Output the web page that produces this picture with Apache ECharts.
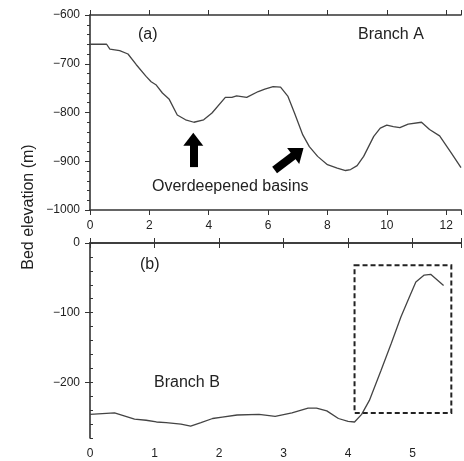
<!DOCTYPE html>
<html>
<head>
<meta charset="utf-8">
<script src="https://cdn.jsdelivr.net/npm/echarts@6/dist/echarts.min.js"></script>
<style>
  html, body { margin: 0; padding: 0; background: #fff; }
  #chart { width: 464px; height: 461px; }
</style>
</head>
<body>
<div id="chart"></div>
<script>
// Branch A profile (distance km, bed elevation m)
let distA = [0, 0.56, 0.67, 1.0, 1.28, 1.56, 1.89, 2.06, 2.22, 2.44, 2.67, 2.94, 3.22, 3.5, 3.83, 4.11,
    4.56, 4.78, 4.94, 5.28, 5.67, 5.89, 6.17, 6.42, 6.67, 6.89, 7.17, 7.39, 7.67, 8.0, 8.33, 8.61,
    8.78, 9.0, 9.22, 9.56, 9.78, 10.0, 10.22, 10.44, 10.72, 11.17, 11.44, 11.78, 12.17, 12.5];
let elevA = [-660, -660, -670, -673, -680, -702, -726, -737, -743, -760, -773, -805, -815, -820, -815, -801,
    -769, -769, -766, -769, -757, -752, -747, -748, -767, -801, -846, -870, -890, -907, -914, -919,
    -917, -909, -890, -849, -832, -826, -829, -831, -824, -820, -835, -848, -883, -913];

// Branch B profile
let distB = [0, 0.38, 0.69, 0.87, 1.03, 1.18, 1.41, 1.56, 1.72, 1.9, 2.05, 2.28, 2.62, 2.87, 3.13, 3.38,
    3.51, 3.67, 3.85, 4.0, 4.1, 4.21, 4.33, 4.51, 4.67, 4.82, 4.95, 5.05, 5.18, 5.28, 5.48];
let elevB = [-246, -244, -253, -254.5, -257, -258, -260, -263, -258, -252, -250, -247, -246, -249, -244, -237,
    -237, -241, -252, -256, -257, -246, -226, -183, -144, -106, -77.5, -56, -46, -45, -61];

let ticksA = [-1000, -900, -800, -700, -600];
let ticksB = [-200, -100, 0];

let pairsA = distA.map((d, i) => [d, elevA[i]]);
let pairsB = distB.map((d, i) => [d, elevB[i]]);

let font = "'Liberation Sans', Arial, sans-serif";
let axisColor = '#333';
let minus = v => String(v).replace('-', '\u2212');

function bottomAxis(grid, max, step) {
    return {
        type: 'value', gridIndex: grid, position: 'bottom', min: 0, max: max, interval: step,
        axisLine: { lineStyle: { color: axisColor, width: 1.6 } },
        axisTick: { length: 5, lineStyle: { color: axisColor } },
        splitLine: { show: false },
        axisLabel: {
            color: '#222', fontSize: 12, fontFamily: font, margin: 10,
            formatter: v => (Math.abs(v / step - Math.round(v / step)) < 1e-6 ? String(v) : '')
        }
    };
}
function topAxis(grid, max, step) {
    return {
        type: 'value', gridIndex: grid, position: 'top', min: 0, max: max, interval: step,
        axisLine: { lineStyle: { color: axisColor, width: 1.6 } },
        axisTick: { length: 5, lineStyle: { color: axisColor } },
        splitLine: { show: false },
        axisLabel: { show: false }
    };
}

let option = {
    animation: false,
    backgroundColor: '#fff',
    grid: [
        { left: 90, top: 15, width: 375, height: 195 },
        { left: 90, top: 243, width: 374, height: 195 }
    ],
    xAxis: [
        bottomAxis(0, 12.5, 2),
        topAxis(0, 12.5, 2),
        bottomAxis(1, 5.75, 1),
        topAxis(1, 5.75, 1)
    ],
    yAxis: [
        {
            type: 'value', gridIndex: 0, min: -1000, max: -600, interval: 100,
            axisLine: { show: true, lineStyle: { color: axisColor, width: 1.6 } },
            axisTick: { show: true, length: 5, lineStyle: { color: axisColor } },
            minorTick: { show: true, splitNumber: 5, length: 3, lineStyle: { color: axisColor } },
            splitLine: { show: false },
            axisLabel: { color: '#222', fontSize: 12, fontFamily: font, margin: 10, customValues: ticksA, formatter: minus }
        },
        {
            type: 'value', gridIndex: 1, min: -280, max: 0,
            axisLine: { show: true, lineStyle: { color: axisColor, width: 1.6 } },
            axisTick: { show: true, length: 5, customValues: ticksB, lineStyle: { color: axisColor } },
            splitLine: { show: false },
            axisLabel: { color: '#222', fontSize: 12, fontFamily: font, margin: 10, customValues: ticksB, formatter: minus }
        },
        {
            type: 'value', gridIndex: 1, min: -280, max: 0, interval: 20,
            axisLine: { show: false },
            axisTick: { show: true, length: 3, lineStyle: { color: axisColor } },
            splitLine: { show: false },
            axisLabel: { show: false }
        }
    ],
    series: [
        {
            type: 'line', xAxisIndex: 0, yAxisIndex: 0, data: pairsA,
            showSymbol: false, smooth: false,
            lineStyle: { color: '#444', width: 1.3 },
            markLine: {
                silent: true, symbol: ['none', 'triangle'], symbolSize: [20, 13],
                label: { show: false },
                lineStyle: { color: '#000', width: 8, type: 'solid' },
                data: [
                    [{ coord: [3.48, -912] }, { coord: [3.48, -855] }],
                    [{ coord: [6.22, -918] }, { coord: [7.02, -881] }]
                ]
            }
        },
        {
            type: 'line', xAxisIndex: 2, yAxisIndex: 1, data: pairsB,
            showSymbol: false, smooth: false,
            lineStyle: { color: '#444', width: 1.3 },
            markArea: {
                silent: true,
                itemStyle: { color: 'rgba(0,0,0,0)', borderColor: '#222', borderWidth: 2, borderType: [5, 3] },
                data: [[{ coord: [4.1, -32] }, { coord: [5.6, -244] }]]
            }
        }
    ],
    graphic: [
        { type: 'text', left: 138, top: 27, style: { text: '(a)', font: '16px ' + font, fill: '#222' } },
        { type: 'text', left: 358, top: 27, style: { text: 'Branch A', font: '16px ' + font, fill: '#222' } },
        { type: 'text', left: 152, top: 179, style: { text: 'Overdeepened basins', font: '16px ' + font, fill: '#222' } },
        { type: 'text', left: 140, top: 257, style: { text: '(b)', font: '16px ' + font, fill: '#222' } },
        { type: 'text', left: 154, top: 375, style: { text: 'Branch B', font: '16px ' + font, fill: '#222' } },
        {
            type: 'text', x: 29, y: 207, rotation: Math.PI / 2,
            style: { text: 'Bed elevation (m)', font: '16px ' + font, fill: '#222', align: 'center', verticalAlign: 'middle' }
        }
    ]
};

let chart = echarts.init(document.getElementById('chart'));
chart.setOption(option);
</script>
</body>
</html>
